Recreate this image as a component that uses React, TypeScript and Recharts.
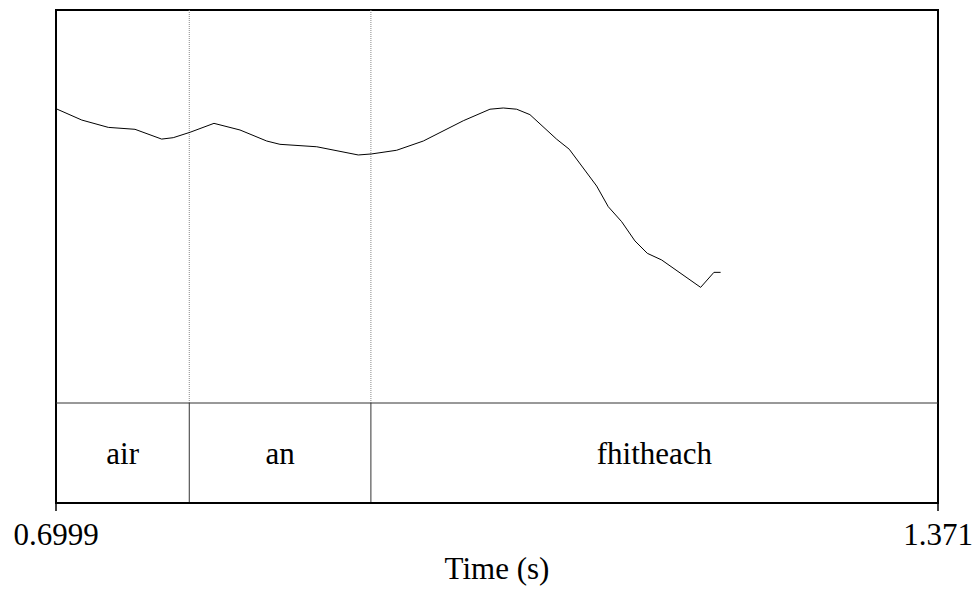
import React from 'react';
import {
  ComposedChart,
  Line,
  XAxis,
  YAxis,
  ReferenceArea,
  ReferenceLine,
} from 'recharts';

// pitch track (s, Hz)
const TIMES = [
  0.6999, 0.7195, 0.7397, 0.76, 0.7803, 0.7891, 0.8019, 0.8201, 0.8399, 0.8602,
  0.8703, 0.8983, 0.9299, 0.9401, 0.9591, 0.9794, 1.0098, 1.0301, 1.0402, 1.0504,
  1.0605, 1.0809, 1.0904, 1.0999, 1.1113, 1.1201, 1.1303, 1.1404, 1.1498, 1.1607,
  1.1904, 1.2005, 1.2056,
];
const PITCH = [
  243.5, 237.0, 232.8, 231.7, 226.1, 226.9, 230.0, 235.1, 231.3, 225.0,
  223.1, 221.7, 217.0, 217.6, 219.7, 225.0, 236.6, 243.2, 243.9, 243.2,
  240.1, 226.0, 220.3, 210.7, 199.2, 187.4, 178.8, 167.8, 160.7, 156.9,
  141.2, 149.8, 149.8,
];

// text grid tier
const TIER_BOUNDS = [0.6999, 0.8013, 0.9395, 1.371];
const TIER_LABELS = ['air', 'an', 'fhitheach'];

const X_TICKS = [0.6999, 1.371];
const X_LABELS = ['0.6999', '1.371'];

const T_MIN = 0.6999;
const T_MAX = 1.371;
const PITCH_MIN = 75;
const PITCH_MAX = 300;
// tier box takes 100px below the 393px pitch area
const TIER_SPAN = ((PITCH_MAX - PITCH_MIN) * 100) / 393;
const Y_MIN = PITCH_MIN - TIER_SPAN;

const FONT = '"Liberation Serif", "Times New Roman", serif';

const data = TIMES.map((t, i) => ({ t, hz: PITCH[i] }));

const TimeTick = (props: any) => {
  const { x, y, payload } = props;
  const idx = X_TICKS.indexOf(payload.value);
  return (
    <text
      x={x}
      y={y + 32}
      textAnchor="middle"
      fontFamily={FONT}
      fontSize={31}
      fill="#000"
    >
      {X_LABELS[idx] ?? payload.value}
    </text>
  );
};

export default function App() {
  const inner = TIER_BOUNDS.slice(1, -1);
  return (
    <div style={{ position: 'absolute', left: 0, top: 0, background: '#fff' }}>
      <ComposedChart
        width={980}
        height={592}
        data={data}
        margin={{ top: 10, right: 42, bottom: 0, left: 56 }}
      >
        <XAxis
          dataKey="t"
          type="number"
          domain={[T_MIN, T_MAX]}
          ticks={X_TICKS}
          allowDataOverflow
          height={89}
          tickSize={8}
          axisLine={{ stroke: '#000', strokeWidth: 2 }}
          tickLine={{ stroke: '#000', strokeWidth: 1.5 }}
          tick={<TimeTick />}
          label={{
            value: 'Time (s)',
            position: 'insideBottom',
            offset: 13,
            fontFamily: FONT,
            fontSize: 31,
            fill: '#000',
          }}
        />
        <YAxis type="number" domain={[Y_MIN, PITCH_MAX]} hide allowDataOverflow />

        {TIER_LABELS.map((label, i) => (
          <ReferenceArea
            key={label}
            x1={TIER_BOUNDS[i]}
            x2={TIER_BOUNDS[i + 1]}
            y1={Y_MIN}
            y2={PITCH_MIN}
            fill="none"
            stroke="none"
            label={{
              value: label,
              position: 'center',
              fontFamily: FONT,
              fontSize: 31,
              fill: '#000',
            }}
          />
        ))}

        {inner.map((b) => (
          <ReferenceLine
            key={`dot-${b}`}
            segment={[
              { x: b, y: PITCH_MIN },
              { x: b, y: PITCH_MAX },
            ]}
            stroke="#888"
            strokeWidth={1}
            strokeDasharray="1 1"
          />
        ))}
        {inner.map((b) => (
          <ReferenceLine
            key={`solid-${b}`}
            segment={[
              { x: b, y: Y_MIN },
              { x: b, y: PITCH_MIN },
            ]}
            stroke="#333"
            strokeWidth={1}
          />
        ))}
        <ReferenceLine y={PITCH_MIN} stroke="#333" strokeWidth={1} />

        <ReferenceArea
          x1={T_MIN}
          x2={T_MAX}
          y1={Y_MIN}
          y2={PITCH_MAX}
          fill="none"
          stroke="#000"
          strokeWidth={2}
        />

        <Line
          dataKey="hz"
          type="linear"
          stroke="#000"
          strokeWidth={1}
          dot={false}
          isAnimationActive={false}
        />
      </ComposedChart>
    </div>
  );
}
